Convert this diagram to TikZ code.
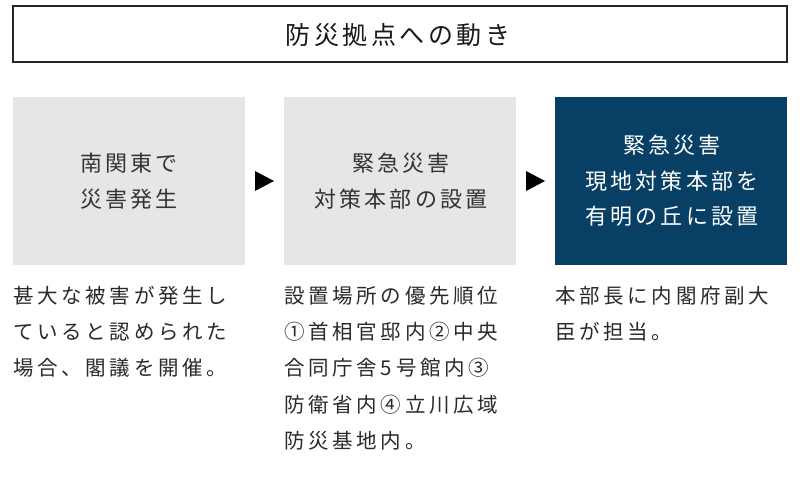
\documentclass[tikz,border=0pt]{standalone}
\usepackage{fontspec}
\setmainfont{Noto Sans CJK JP}
\newfontfamily\jpfont{Noto Sans CJK JP}
\usetikzlibrary{calc}
\definecolor{boxgray}{HTML}{E6E6E6}
\definecolor{navy}{HTML}{084065}
\definecolor{txtgray}{HTML}{2A2A2A}
\tikzset{
  titlebox/.style={draw=black!85, line width=1.3pt, fill=white, minimum width=774pt, minimum height=56pt, inner sep=0pt},
  stepbox/.style={minimum width=232pt, minimum height=168pt, inner sep=0pt},
  graybox/.style={stepbox, fill=boxgray},
  navybox/.style={stepbox, fill=navy},
  boxtext/.style={align=center, inner sep=0pt, font=\jpfont\addfontfeatures{LetterSpace=15}\fontsize{22pt}{35.5pt}\selectfont},
  bodytext/.style={align=left, anchor=north west, inner sep=0pt, text=txtgray, font=\jpfont\addfontfeatures{LetterSpace=18}\fontsize{20.5pt}{36.2pt}\selectfont},
  tri/.style={fill=black}
}
\begin{document}
\begin{tikzpicture}[x=1pt,y=-1pt]
\useasboundingbox (0,0) rectangle (800,478);
\fill[white] (0,0) rectangle (800,478);
% title
\node[titlebox] (title) at (400,34) {};
\node[inner sep=0pt, font=\jpfont\addfontfeatures{LetterSpace=14}\fontsize{25pt}{25pt}\selectfont, text=black!90] (titletext) at (398,35) {防災拠点への動き};
% boxes
\node[graybox] (b1) at (129,181) {};
\node[graybox] (b2) at (400,181) {};
\node[navybox] (b3) at (671,181) {};
\node[boxtext, text=black!80] (t1) at ($(b1)+(0,0)$) {南関東で\\災害発生};
\node[boxtext, text=black!80] (t2) at ($(b2)+(1,0)$) {緊急災害\\対策本部の設置};
\node[boxtext, text=white] (t3) at ($(b3)+(1,0)$) {緊急災害\\現地対策本部を\\有明の丘に設置};
% arrows
\coordinate (a1) at ($(b1.east)!0.5!(b2.west)$);
\coordinate (a2) at ($(b2.east)!0.5!(b3.west)$);
\fill[tri] ($(a1)+(-9.5,-10)$) -- ($(a1)+(9.5,0)$) -- ($(a1)+(-9.5,10)$) -- cycle;
\fill[tri] ($(a2)+(-9.5,-10)$) -- ($(a2)+(9.5,0)$) -- ($(a2)+(-9.5,10)$) -- cycle;
% body texts
\node[bodytext] (d1) at (13,286) {甚大な被害が発生し\\ていると認められた\\場合、閣議を開催。};
\node[bodytext] (d2) at (284,286) {設置場所の優先順位\\①首相官邸内②中央\\合同庁舎5号館内③\\防衛省内④立川広域\\防災基地内。};
\node[bodytext] (d3) at (555,286) {本部長に内閣府副大\\臣が担当。};
\end{tikzpicture}
\end{document}
